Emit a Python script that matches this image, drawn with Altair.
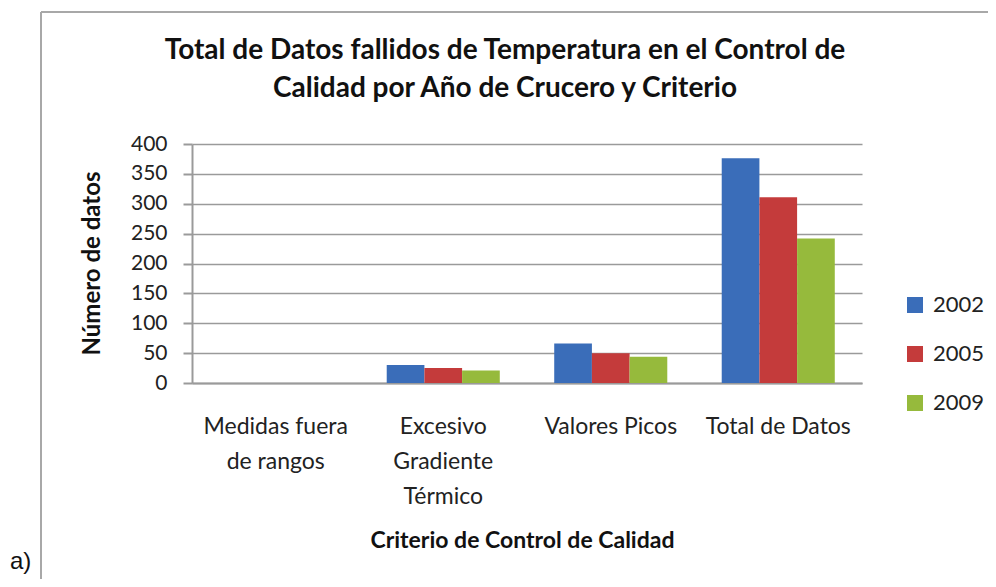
import altair as alt
import pandas as pd

categories = ["Medidas fuera de rangos", "Excesivo Gradiente Térmico", "Valores Picos", "Total de Datos"]
years = ["2002", "2005", "2009"]
v2002 = [0, 30, 66, 376]
v2005 = [0, 25, 50, 311]
v2009 = [0, 21, 44, 242]
y_ticks = [0, 50, 100, 150, 200, 250, 300, 350, 400]
colors = ["#3A6DB9", "#C43B3B", "#96BA3C"]

title_lines = ["Total de Datos fallidos de Temperatura en el Control de",
               "Calidad por Año de Crucero y Criterio"]
label_lines = {
    "Medidas fuera de rangos": ["Medidas fuera", "de rangos"],
    "Excesivo Gradiente Térmico": ["Excesivo", "Gradiente", "Térmico"],
}

rows = []
for yr, vals in zip(years, [v2002, v2005, v2009]):
    for c, v in zip(categories, vals):
        rows.append({"categoria": c, "anio": yr, "valor": v})
df = pd.DataFrame(rows)

expr = "datum.value"
for k, lines in label_lines.items():
    arr = "[" + ",".join("'" + s + "'" for s in lines) + "]"
    expr = f"datum.value == '{k}' ? {arr} : ({expr})"

GRAY = "#9A9A9A"
FONT = "Lato"
TXT = "#222222"

bars = alt.Chart(df).mark_bar().encode(
    x=alt.X("categoria:N", sort=categories,
            scale=alt.Scale(paddingInner=0.325, paddingOuter=0.1625),
            axis=alt.Axis(title="Criterio de Control de Calidad", labelAngle=0, ticks=False,
                          domainColor=GRAY, domainWidth=2, labelFont=FONT, labelFontSize=23,
                          labelColor=TXT, labelPadding=32, labelLineHeight=35, labelExpr=expr,
                          labelBaseline="top",
                          titleFont=FONT, titleFontSize=23, titleFontWeight="bold", titleColor="#111111",
                          titleX=330, titleY=157, titleAlign="center", titleBaseline="middle")),
    xOffset=alt.XOffset("anio:N", sort=years, scale=alt.Scale(paddingInner=0, paddingOuter=0)),
    y=alt.Y("valor:Q", scale=alt.Scale(domain=[0, 400]),
            axis=alt.Axis(values=y_ticks, tickSize=9, tickColor=GRAY, tickWidth=2,
                          domainColor=GRAY, domainWidth=2, gridColor=GRAY, gridWidth=1.5,
                          labelPadding=16, labelFont=FONT, labelFontSize=21, labelColor=TXT,
                          title="Número de datos", titleFont=FONT, titleFontSize=24,
                          titleFontWeight="bold", titleColor="#111111", titleAngle=270,
                          titleX=-100, titleY=119, titleAlign="center", titleBaseline="middle")),
    color=alt.Color("anio:N", sort=years, scale=alt.Scale(domain=years, range=colors),
                    legend=alt.Legend(title=None, orient="none", legendX=712, legendY=150,
                                      direction="vertical", symbolType="square", symbolSize=256,
                                      symbolStrokeWidth=0, labelFont=FONT, labelFontSize=22,
                                      labelColor=TXT, labelOffset=7, rowPadding=27, padding=0)),
)

border_top = alt.Chart().mark_rule(color="#A8A8A8", strokeWidth=2).encode(
    x=alt.value(-151), x2=alt.value(820), y=alt.value(-132))
border_left = alt.Chart().mark_rule(color="#A8A8A8", strokeWidth=2).encode(
    x=alt.value(-151), y=alt.value(-132), y2=alt.value(460))
tag = alt.Chart().mark_text(text="a)", font="Liberation Sans", fontSize=24, align="left",
                            baseline="middle", color="#111111").encode(
    x=alt.value(-182), y=alt.value(418))
title = alt.Chart().mark_text(text=title_lines, font=FONT, fontSize=28, fontWeight="bold",
                              color="#111111", align="center", baseline="middle",
                              lineHeight=38).encode(
    x=alt.value(313), y=alt.value(-93))

chart = alt.layer(border_top, border_left, bars, tag, title).properties(
    width=670, height=239,
    autosize=alt.AutoSizeParams(type="none"),
    padding={"left": 184, "top": 136, "right": 126, "bottom": 196},
    background="white",
).configure_view(stroke=None)

chart.save("out.html", embed_options={"renderer": "svg", "actions": False})
